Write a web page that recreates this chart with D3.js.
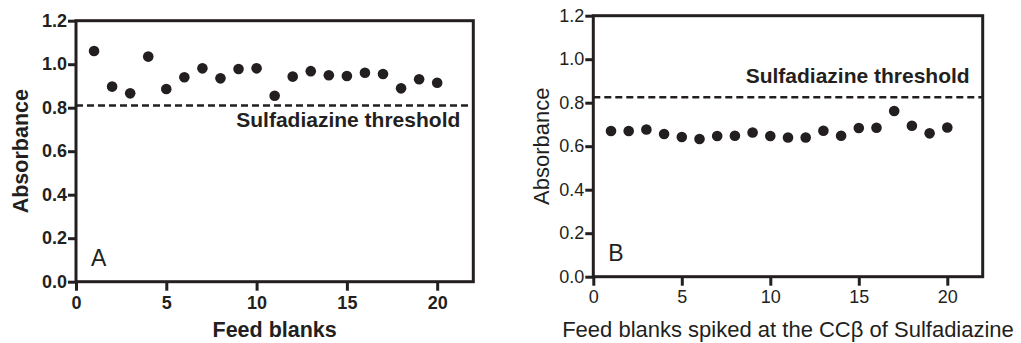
<!DOCTYPE html>
<html>
<head>
<meta charset="utf-8">
<script src="https://cdn.jsdelivr.net/npm/d3@7.9.0/dist/d3.min.js"></script>
<style>
  body { margin: 0; background: #fff; }
  svg { display: block; }
  text { font-family: Arial, "Liberation Sans", Helvetica, sans-serif; fill: #231f20; }
</style>
</head>
<body>
<div id="chart"></div>
<script>
// sample number (x) for both panels
const blankNo = [1, 2, 3, 4, 5, 6, 7, 8, 9, 10, 11, 12, 13, 14, 15, 16, 17, 18, 19, 20];

// panel A: feed blanks
const absorbanceA = [1.061, 0.897, 0.866, 1.035, 0.886, 0.940, 0.981, 0.935, 0.978, 0.981,
                     0.855, 0.943, 0.968, 0.949, 0.946, 0.961, 0.955, 0.889, 0.931, 0.915];
const thresholdA = 0.81;

// panel B: feed blanks spiked at CCbeta
const absorbanceB = [0.670, 0.670, 0.677, 0.656, 0.642, 0.633, 0.647, 0.648, 0.663, 0.647,
                     0.640, 0.640, 0.671, 0.648, 0.684, 0.685, 0.762, 0.694, 0.659, 0.686];
const thresholdB = 0.825;

const xTicks = [0, 5, 10, 15, 20];
const yTicks = [0.0, 0.2, 0.4, 0.6, 0.8, 1.0, 1.2];

const width = 1021;
const height = 343;

const svg = d3.select("#chart")
    .append("svg")
    .attr("width", width)
    .attr("height", height);

function drawPanel(p) {
    const x = d3.scaleLinear().domain([0, 22]).range([p.left, p.right]);
    const y = d3.scaleLinear().domain([0, 1.2]).range([p.bottom, p.top]);
    const g = svg.append("g");
    const weight = p.bold ? "bold" : "normal";

    // frame
    g.append("rect")
        .attr("x", x(0)).attr("y", y(1.2))
        .attr("width", x(22) - x(0)).attr("height", y(0) - y(1.2))
        .attr("fill", "none").attr("stroke", "#231f20").attr("stroke-width", 3);

    // axes (ticks only, frame draws the lines)
    const xAxis = g.append("g")
        .attr("transform", `translate(0,${p.bottom})`)
        .call(d3.axisBottom(x).tickValues(xTicks).tickSize(p.xTick).tickPadding(p.xPad).tickFormat(d3.format("d")));
    const yAxis = g.append("g")
        .attr("transform", `translate(${p.left},0)`)
        .call(d3.axisLeft(y).tickValues(yTicks).tickSize(8).tickPadding(1).tickFormat(d3.format(".1f")));

    [xAxis, yAxis].forEach(a => {
        a.select(".domain").remove();
        a.selectAll("line").attr("stroke", "#231f20").attr("stroke-width", 3);
        a.selectAll("text")
            .attr("fill", "#231f20")
            .style("font-size", "18px")
            .style("font-weight", weight);
    });

    // threshold
    g.append("line")
        .attr("x1", x(0)).attr("x2", x(22))
        .attr("y1", y(p.threshold)).attr("y2", y(p.threshold))
        .attr("stroke", "#231f20").attr("stroke-width", 2.5)
        .attr("stroke-dasharray", "7,4");

    g.append("text")
        .attr("x", x(22) - 13)
        .attr("y", y(p.threshold) + p.labelDy)
        .attr("text-anchor", "end")
        .style("font-size", "21px")
        .style("font-weight", "bold")
        .text("Sulfadiazine threshold");

    // points
    g.selectAll("circle")
        .data(p.values)
        .enter()
        .append("circle")
        .attr("cx", (d, i) => x(blankNo[i]))
        .attr("cy", d => y(d))
        .attr("r", 5.3)
        .attr("fill", "#231f20");

    // panel letter
    g.append("text")
        .attr("x", x(0) + 15)
        .attr("y", y(0.2) + 28)
        .style("font-size", "23px")
        .text(p.letter);

    // axis labels
    g.append("text")
        .attr("transform", `translate(${p.yLabelX},${(p.top + p.bottom) / 2}) rotate(-90)`)
        .attr("text-anchor", "middle")
        .attr("dy", "0.35em")
        .style("font-size", p.labelSize + "px")
        .style("font-weight", weight)
        .text("Absorbance");

    g.append("text")
        .attr("x", (p.left + p.right) / 2)
        .attr("y", 329)
        .attr("dy", "0.35em")
        .attr("text-anchor", "middle")
        .style("font-size", p.labelSize + "px")
        .style("font-weight", weight)
        .text(p.xLabel);
}

drawPanel({
    left: 76, right: 473.3, top: 20.7, bottom: 281.7,
    values: absorbanceA, threshold: thresholdA, labelDy: 21,
    letter: "A", xLabel: "Feed blanks", bold: true, labelSize: 21.5,
    xTick: 9, xPad: 6, yLabelX: 20
});

drawPanel({
    left: 593.3, right: 982.7, top: 15.7, bottom: 276.7,
    values: absorbanceB, threshold: thresholdB, labelDy: -14,
    letter: "B", xLabel: "Feed blanks spiked at the CC\u03B2 of Sulfadiazine", bold: false, labelSize: 22,
    xTick: 9, xPad: 5, yLabelX: 541
});
</script>
</body>
</html>
